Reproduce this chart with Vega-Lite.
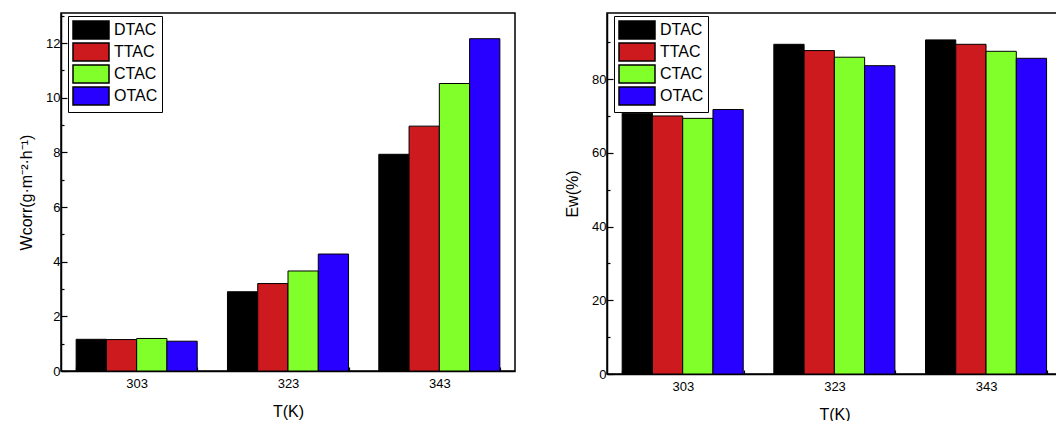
{
  "$schema": "https://vega.github.io/schema/vega-lite/v6.json",
  "padding": {"left": 17, "top": 12, "right": 0, "bottom": 0},
  "background": "white",
  "config": {
    "font": "Liberation Sans",
    "view": {"stroke": "black", "strokeWidth": 1.5},
    "axis": {
      "domainColor": "black", "domainWidth": 1.5,
      "tickColor": "black", "tickWidth": 1.2,
      "labelColor": "black", "titleColor": "black",
      "labelFont": "Liberation Sans", "titleFont": "Liberation Sans",
      "labelFontSize": 13, "titleFontSize": 16, "titleFontWeight": "normal",
      "grid": false
    }
  },
  "datasets": {
    "wcorr": [
      {"T": "303", "s": "DTAC", "v": 1.16},
      {"T": "303", "s": "TTAC", "v": 1.15},
      {"T": "303", "s": "CTAC", "v": 1.19},
      {"T": "303", "s": "OTAC", "v": 1.09},
      {"T": "323", "s": "DTAC", "v": 2.9},
      {"T": "323", "s": "TTAC", "v": 3.2},
      {"T": "323", "s": "CTAC", "v": 3.66},
      {"T": "323", "s": "OTAC", "v": 4.28},
      {"T": "343", "s": "DTAC", "v": 7.93},
      {"T": "343", "s": "TTAC", "v": 8.96},
      {"T": "343", "s": "CTAC", "v": 10.52},
      {"T": "343", "s": "OTAC", "v": 12.16}
    ],
    "ew": [
      {"T": "303", "s": "DTAC", "v": 70.8},
      {"T": "303", "s": "TTAC", "v": 70.05},
      {"T": "303", "s": "CTAC", "v": 69.4},
      {"T": "303", "s": "OTAC", "v": 71.8},
      {"T": "323", "s": "DTAC", "v": 89.5},
      {"T": "323", "s": "TTAC", "v": 87.8},
      {"T": "323", "s": "CTAC", "v": 86.0},
      {"T": "323", "s": "OTAC", "v": 83.7},
      {"T": "343", "s": "DTAC", "v": 90.7},
      {"T": "343", "s": "TTAC", "v": 89.5},
      {"T": "343", "s": "CTAC", "v": 87.6},
      {"T": "343", "s": "OTAC", "v": 85.7}
    ]
  },
  "spacing": 47,
  "resolve": {"legend": {"color": "independent"}},
  "hconcat": [
    {
      "width": 454, "height": 358,
      "data": {"name": "wcorr"},
      "mark": {"type": "bar", "stroke": "black", "strokeWidth": 1},
      "encoding": {
        "x": {"field": "T", "type": "nominal",
          "scale": {"paddingInner": 0.2, "paddingOuter": 0.1},
          "axis": {"title": "T(K)", "labelAngle": 0, "tickBand": "extent", "tickSize": -4, "labelPadding": 10, "titlePadding": 13}},
        "xOffset": {"field": "s", "type": "nominal", "sort": ["DTAC", "TTAC", "CTAC", "OTAC"], "scale": {"paddingInner": 0, "paddingOuter": 0}},
        "y": {"field": "v", "type": "quantitative",
          "scale": {"domain": [0, 13.1], "nice": false},
          "axis": {"title": "Wcorr(g·m⁻²·h⁻¹)", "values": [0,1,2,3,4,5,6,7,8,9,10,11,12,13],
            "labelExpr": "datum.value % 2 === 0 ? datum.label : ''",
            "tickSize": {"condition": {"test": "datum.value % 2 === 0", "value": -6}, "value": -3},
            "labelPadding": 7, "titlePadding": 11}},
        "color": {"field": "s", "type": "nominal", "sort": ["DTAC", "TTAC", "CTAC", "OTAC"],
          "scale": {"domain": ["DTAC", "TTAC", "CTAC", "OTAC"], "range": ["#000000", "#cc1a1e", "#80ff2a", "#2800ff"]},
          "legend": {"orient": "none", "legendX": 7, "legendY": 3, "title": null,
            "symbolType": "M-1,-1H3V1H-1Z", "symbolSize": 324,
            "symbolStrokeColor": "black", "symbolStrokeWidth": 1.5, "symbolOpacity": 1,
            "labelFontSize": 16, "labelFont": "Liberation Sans", "labelColor": "black",
            "strokeColor": "black", "fillColor": "white", "padding": 4, "rowPadding": -4, "labelOffset": 22}}
      }
    },
    {
      "width": 455, "height": 361,
      "data": {"name": "ew"},
      "mark": {"type": "bar", "stroke": "black", "strokeWidth": 1},
      "encoding": {
        "x": {"field": "T", "type": "nominal",
          "scale": {"paddingInner": 0.2, "paddingOuter": 0.1},
          "axis": {"title": "T(K)", "labelAngle": 0, "tickBand": "extent", "tickSize": -4, "labelPadding": 10, "titlePadding": 13}},
        "xOffset": {"field": "s", "type": "nominal", "sort": ["DTAC", "TTAC", "CTAC", "OTAC"], "scale": {"paddingInner": 0, "paddingOuter": 0}},
        "y": {"field": "v", "type": "quantitative",
          "scale": {"domain": [0, 98], "nice": false},
          "axis": {"title": "Ew(%)", "values": [0,10,20,30,40,50,60,70,80,90],
            "labelExpr": "datum.value % 20 === 0 ? datum.label : ''",
            "tickSize": {"condition": {"test": "datum.value % 20 === 0", "value": -6}, "value": -3},
            "labelPadding": 7, "titlePadding": 11}},
        "color": {"field": "s", "type": "nominal", "sort": ["DTAC", "TTAC", "CTAC", "OTAC"],
          "scale": {"domain": ["DTAC", "TTAC", "CTAC", "OTAC"], "range": ["#000000", "#cc1a1e", "#80ff2a", "#2800ff"]},
          "legend": {"orient": "none", "legendX": 7, "legendY": 3, "title": null,
            "symbolType": "M-1,-1H3V1H-1Z", "symbolSize": 324,
            "symbolStrokeColor": "black", "symbolStrokeWidth": 1.5, "symbolOpacity": 1,
            "labelFontSize": 16, "labelFont": "Liberation Sans", "labelColor": "black",
            "strokeColor": "black", "fillColor": "white", "padding": 4, "rowPadding": -4, "labelOffset": 22}}
      }
    }
  ]
}
